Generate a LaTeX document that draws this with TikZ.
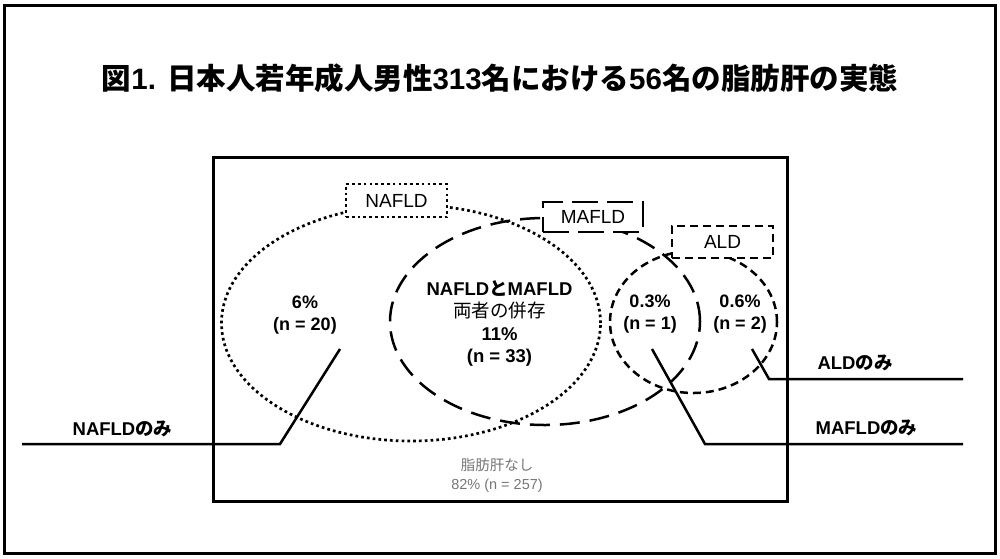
\documentclass[tikz,border=0pt]{standalone}
\usepackage{fontspec}
\setmainfont{Liberation Sans}
\newfontfamily\jp{Noto Sans CJK JP}
\usetikzlibrary{shapes.geometric}
\definecolor{muted}{RGB}{118,118,118}

\begin{document}
\begin{tikzpicture}[x=1pt, y=-1pt,
      frame/.style={draw, line width=3pt},
      leader/.style={draw, line width=2.5pt},
      dotline/.style={line width=2.7pt, dash pattern=on 2.7pt off 3.1pt},
      longdash/.style={line width=2.5pt, dash pattern=on 20pt off 10pt},
      boxdash/.style={line width=2.5pt, dash pattern=on 26pt off 9pt},
      shortdash/.style={line width=2.5pt, dash pattern=on 8pt off 5pt},
      set/.style={ellipse, draw, inner sep=0pt},
      tag/.style={draw, fill=white, inner sep=0pt, font=\fontsize{19}{20}\selectfont},
      region/.style={align=center, font=\bfseries\fontsize{18}{22}\selectfont},
      only/.style={font=\bfseries\fontsize{18.5}{20}\selectfont}]
      \useasboundingbox (0,0) rectangle (1000,558);

      \draw[frame] (4,5) rectangle (995,553);
      \draw[frame] (213,157) rectangle (787,501);

      \node[font=\bfseries\fontsize{29.5}{31}\selectfont] (title) at (500,78)
        {{\jp 図}1. {\jp 日本人若年成人男性}313{\jp 名における}56{\jp 名の脂肪肝の実態}};

      \node[set, dotline, minimum width=379pt, minimum height=236pt] (nafld) at (411,323) {};
      \node[set, longdash, minimum width=310pt, minimum height=207pt] (mafld) at (545,321.5) {};
      \node[set, shortdash, minimum width=167pt, minimum height=142pt] (ald) at (693.5,322) {};

      \node[tag, dotline, minimum width=101pt, minimum height=33pt] (nafldtag) at (396.5,200.5) {NAFLD};
      \node[tag, boxdash, minimum width=100pt, minimum height=30pt] (mafldtag) at (593,217) {MAFLD};
      \node[tag, shortdash, minimum width=101pt, minimum height=32pt] (aldtag) at (722.5,242) {ALD};

      \node[region] (n20) at (305,315) {6\%\\(n = 20)};
      \node[region, font=\bfseries\fontsize{18.5}{22.3}\selectfont] (n33) at (499.5,323.5)
        {NAFLD{\jp と}MAFLD\\{\jp\mdseries 両者の併存}\\11\%\\(n = 33)};
      \node[region] (n1) at (650,314) {0.3\%\\(n = 1)};
      \node[region] (n2) at (740,314) {0.6\%\\(n = 2)};
      \node[align=center, text=muted, font=\fontsize{14.5}{19}\selectfont] (n257) at (497,475)
        {{\jp 脂肪肝なし}\\82\% (n = 257)};

      \node[only] (nafldonly) at (122.5,429) {NAFLD{\jp のみ}};
      \node[only] (aldonly) at (855,363) {ALD{\jp のみ}};
      \node[only] (mafldonly) at (866.5,428) {MAFLD{\jp のみ}};

      \coordinate (nafldtip) at (340,349);
      \coordinate (nafldbend) at (280,444);
      \coordinate (nafldend) at (22,444);
      \coordinate (mafldtip) at (652,349);
      \coordinate (mafldbend) at (705,444);
      \coordinate (mafldend) at (963,444);
      \coordinate (aldtip) at (752,349);
      \coordinate (aldbend) at (769,379);
      \coordinate (aldend) at (963,379);

      \draw[leader] (nafldtip) -- (nafldbend) -- (nafldend);
      \draw[leader] (mafldtip) -- (mafldbend) -- (mafldend);
      \draw[leader] (aldtip) -- (aldbend) -- (aldend);
    \end{tikzpicture}
\end{document}
